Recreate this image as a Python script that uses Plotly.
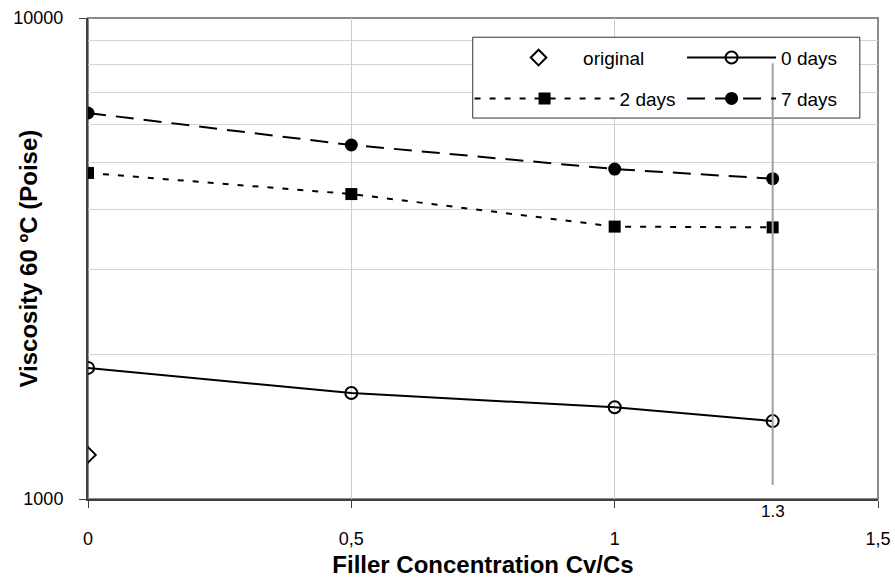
import plotly.graph_objects as go

x_vals = [0, 0.5, 1, 1.3]
original_x = [0]
original_y = [1235]
days0 = [1873, 1661, 1551, 1452]
days2 = [4763, 4305, 3684, 3670]
days7 = [6346, 5445, 4853, 4634]
x_tickvals = [0, 0.5, 1, 1.5]
x_ticktext = ["0", "0,5", "1", "1,5"]
y_major = [1000, 10000]
y_minor = [2000, 3000, 4000, 5000, 6000, 7000, 8000, 9000]

FONT = "Liberation Sans, Arial, sans-serif"

fig = go.Figure()
fig.add_trace(go.Scatter(x=original_x, y=original_y, mode="markers", name="original",
                         legend="legend",
                         marker=dict(symbol="diamond-open", size=12, color="black",
                                     line=dict(width=2, color="black"))))
fig.add_trace(go.Scatter(x=x_vals, y=days0, mode="lines+markers", name="0 days",
                         legend="legend2",
                         line=dict(color="black", width=2),
                         marker=dict(symbol="circle-open", size=12, color="black",
                                     line=dict(width=2, color="black"))))
fig.add_trace(go.Scatter(x=x_vals, y=days2, mode="lines+markers", name="2 days",
                         legend="legend3",
                         line=dict(color="black", width=2, dash="6px,9px"),
                         marker=dict(symbol="square", size=12, color="black")))
fig.add_trace(go.Scatter(x=x_vals, y=days7, mode="lines+markers", name="7 days",
                         legend="legend4",
                         line=dict(color="black", width=2, dash="18px,10px"),
                         marker=dict(symbol="circle", size=13, color="black")))

# outer frame (top/right lighter)
fig.add_shape(type="rect", xref="paper", yref="paper", x0=0, x1=1, y0=0, y1=1,
              line=dict(color="#8a8a8a", width=2), layer="below")
# legend box
fig.add_shape(type="rect", xref="paper", yref="paper", x0=0.487, x1=0.977, y0=0.792, y1=0.96,
              line=dict(color="#333333", width=1), fillcolor="white")
# reference line at 1.3
fig.add_shape(type="line", xref="x", yref="paper", x0=1.3, x1=1.3, y0=0.029, y1=0.906,
              line=dict(color="#a0a0a0", width=2))
fig.add_annotation(x=1.3, xref="x", y=0, yref="paper", yanchor="top", yshift=-1,
                   text="1.3", showarrow=False, font=dict(family=FONT, size=17, color="black"))
# y-axis title
fig.add_annotation(x=0, xref="paper", y=0.5, yref="paper", xanchor="center", yanchor="middle",
                   xshift=-60, textangle=-90, showarrow=False,
                   text="<b>Viscosity 60 ºC (Poise)</b>",
                   font=dict(family=FONT, size=24, color="black"))

def leg(xp, yp, w):
    return dict(orientation="v", x=xp, y=yp, xanchor="left", yanchor="top",
                bgcolor="rgba(0,0,0,0)", borderwidth=0, itemwidth=w,
                font=dict(family=FONT, size=19, color="black"))

fig.update_layout(
    width=895, height=581,
    margin=dict(l=88, r=17, t=18, b=82),
    plot_bgcolor="white", paper_bgcolor="white",
    font=dict(family=FONT, size=18, color="black"),
    showlegend=True,
    legend=leg(0.514, 0.957, 79),
    legend2=leg(0.752, 0.957, 89),
    legend3=leg(0.483, 0.872, 140),
    legend4=leg(0.752, 0.872, 89),
    xaxis=dict(range=[0, 1.5], tickvals=x_tickvals, ticktext=x_ticktext,
               showline=True, linecolor="#404040", linewidth=2,
               ticks="outside", ticklen=7, tickcolor="#404040", tickwidth=1,
               ticklabelstandoff=15,
               showgrid=True, gridcolor="#cccccc", gridwidth=1, zeroline=False,
               tickfont=dict(size=18),
               automargin=False,
               title=dict(text="<b>Filler Concentration Cv/Cs</b>", font=dict(size=24), standoff=9)),
    yaxis=dict(type="log", range=[3, 4], tickvals=y_major, ticktext=["1000", "10000"],
               showline=True, linecolor="#404040", linewidth=2,
               ticks="outside", ticklen=7, tickcolor="#404040", tickwidth=1,
               ticklabelstandoff=12,
               showgrid=False, zeroline=False, automargin=False,
               minor=dict(tickvals=y_minor, showgrid=True, gridcolor="#d4d4d4", ticks=""),
               tickfont=dict(size=18)),
)

fig.write_html("out.html")
